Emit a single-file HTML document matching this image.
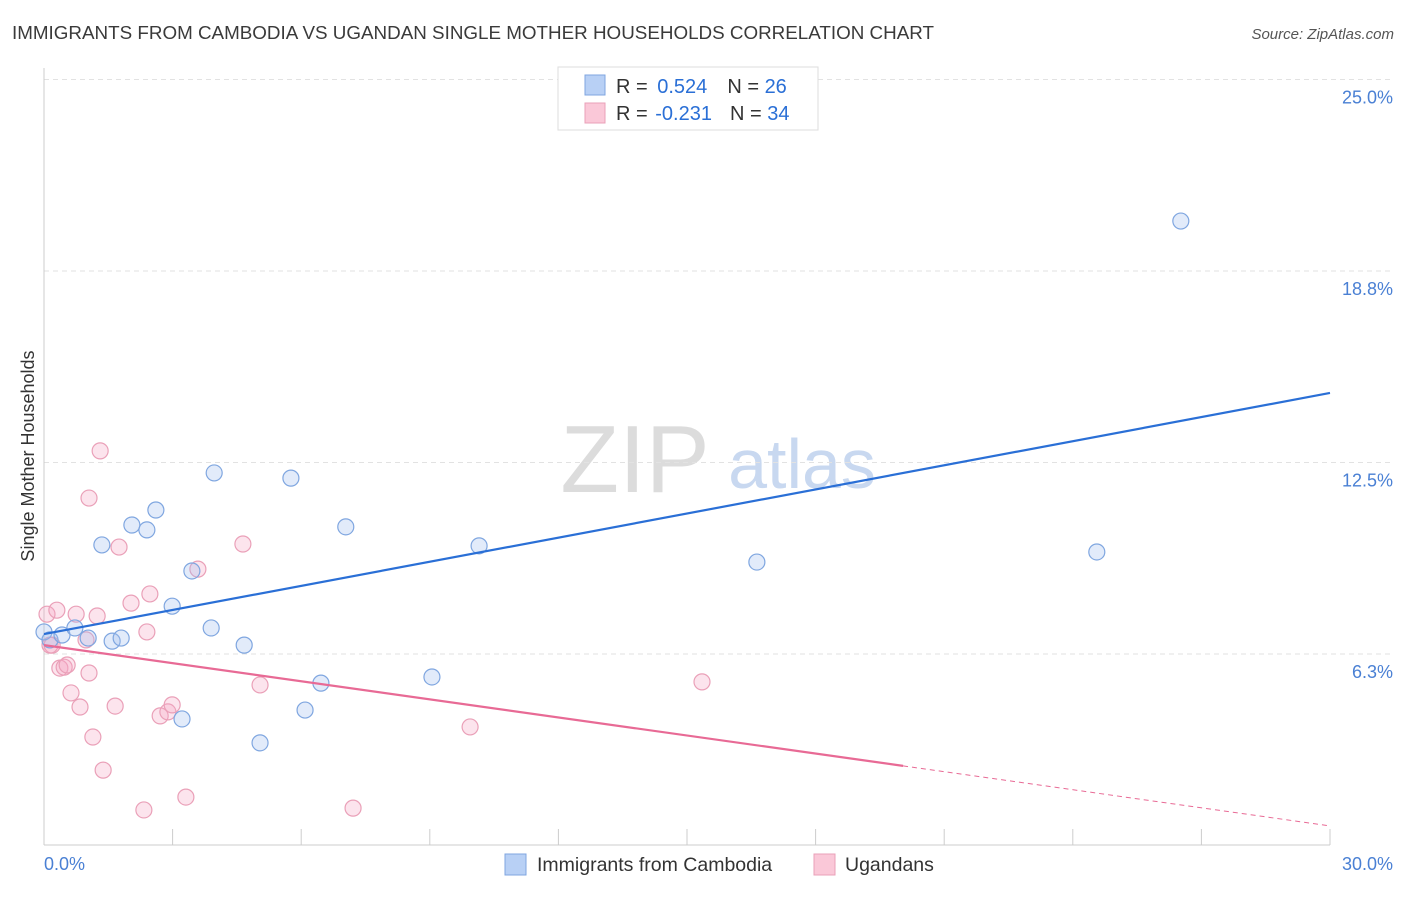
<!DOCTYPE html>
<html><head><meta charset="utf-8">
<style>
body{margin:0;background:#fff;font-family:"Liberation Sans",sans-serif;}
svg text{font-family:"Liberation Sans",sans-serif;}
</style></head>
<body>
<svg id="chart" width="1406" height="892" viewBox="0 0 1406 892" xmlns="http://www.w3.org/2000/svg">
<text x="12" y="39" font-size="18.8" fill="#3a3a3a" textLength="922" lengthAdjust="spacingAndGlyphs">IMMIGRANTS FROM CAMBODIA VS UGANDAN SINGLE MOTHER HOUSEHOLDS CORRELATION CHART</text>
<text x="1394" y="39" font-size="15" fill="#555" font-style="italic" text-anchor="end">Source: ZipAtlas.com</text>
<text transform="translate(34,456) rotate(-90)" font-size="18" fill="#333" text-anchor="middle">Single Mother Households</text>
<g>
<text x="635" y="492" font-size="96" fill="#dcdcdc" font-family="Liberation Serif" text-anchor="middle">ZIP</text>
<text x="802" y="488" font-size="70" fill="#c8d8f0" text-anchor="middle">atlas</text>
</g>
<g id="grid"></g>
<g id="axes"></g>
<g id="points"></g>
<g id="lines"></g>
<g>
<rect x="558" y="67" width="260" height="63" fill="#fff" stroke="#ddd"/>
<rect x="585" y="75" width="20" height="20" fill="#b8d0f5" stroke="#7fa6e0"/>
<rect x="585" y="103" width="20" height="20" fill="#fac8d8" stroke="#eaa0b8"/>
<text x="616" y="93" font-size="20" fill="#333">R = <tspan dx="4" fill="#2a6fd6">0.524</tspan><tspan dx="20">N = </tspan><tspan fill="#2a6fd6">26</tspan></text>
<text x="616" y="120" font-size="20" fill="#333">R = <tspan dx="2" fill="#2a6fd6">-0.231</tspan><tspan dx="18">N = </tspan><tspan fill="#2a6fd6">34</tspan></text>
</g>
<g>
<rect x="505" y="854" width="21" height="21" fill="#b8d0f5" stroke="#7fa6e0"/>
<text x="537" y="871" font-size="19.5" fill="#333">Immigrants from Cambodia</text>
<rect x="814" y="854" width="21" height="21" fill="#fac8d8" stroke="#eaa0b8"/>
<text x="845" y="871" font-size="19.5" fill="#333">Ugandans</text>
</g>
</svg>
<script>
const yTicks=[6.25,12.5,18.75,25];
const yTickLabels=["6.3%","12.5%","18.8%","25.0%"];
const xTickVals=[0,3,6,9,12,15,18,21,24,27,30];
const blueX=[0.0,0.14,0.42,0.72,1.03,1.35,1.59,1.80,2.05,2.40,2.61,2.99,3.22,3.45,3.90,3.97,4.67,5.04,5.76,6.09,6.46,7.04,9.05,10.15,16.63,24.56,26.52];
const blueY=[6.97,6.71,6.87,7.10,6.77,9.81,6.67,6.77,10.46,10.30,10.95,7.81,4.13,8.96,7.10,12.16,6.54,3.35,11.99,4.42,5.30,10.40,5.50,9.78,9.25,9.58,20.38];
const pinkX=[0.07,0.19,0.30,0.37,0.47,0.54,0.63,0.75,0.84,0.98,1.05,1.05,1.14,1.24,1.31,1.38,1.66,1.75,2.03,2.33,2.40,2.47,2.71,2.89,2.99,3.31,3.59,4.64,5.04,7.21,9.94,15.35,0.14];
const pinkY=[7.55,6.54,7.68,5.79,5.82,5.89,4.98,7.55,4.52,6.71,11.34,5.63,3.54,7.49,12.88,2.46,4.55,9.74,7.91,1.16,6.97,8.21,4.23,4.36,4.59,1.58,9.02,9.84,5.24,1.22,3.87,5.34,6.54];
const blueTrend=[6.90,14.77];
const pinkTrend=[6.54,0.64];
const pinkSolidEnd=20.04;
const NS="http://www.w3.org/2000/svg";
const X=v=>44+v*(1286/30);
const Y=v=>845.5-v*30.64;
function mk(tag,attrs,parent){const e=document.createElementNS(NS,tag);for(const k in attrs)e.setAttribute(k,attrs[k]);document.getElementById(parent).appendChild(e);return e;}
yTicks.forEach((t,i)=>{
 const l=mk('line',{x1:44,x2:1394,y1:Y(t),y2:Y(t),stroke:'#e2e2e2','stroke-dasharray':'5,4'},'grid');
 
 
 const tx=mk('text',{x:1393,y:Y(t)+24,'font-size':18,fill:'#4a80d4','text-anchor':'end'},'grid');
 tx.textContent=yTickLabels[i];
 
 
});
let ax=mk('line',{x1:44,x2:44,y1:68,y2:845,stroke:'#ccc'},'axes');


ax=mk('line',{x1:44,x2:1330,y1:845,y2:845,stroke:'#ccc'},'axes');


xTickVals.forEach(v=>{
 const t=mk('line',{x1:X(v),x2:X(v),y1:829,y2:845,stroke:'#ccc'},'axes');
 
 
});
let xl=mk('text',{x:44,y:870,'font-size':18,fill:'#4a80d4'},'axes');xl.textContent='0.0%';


xl=mk('text',{x:1393,y:870,'font-size':18,fill:'#4a80d4','text-anchor':'end'},'axes');xl.textContent='30.0%';


pinkX.forEach((v,i)=>{
 const c=mk('circle',{cx:X(v),cy:Y(pinkY[i]),r:8,fill:'rgba(245,165,195,0.3)',stroke:'#eaa0b8','stroke-width':1.2},'points');
 
 
});
blueX.forEach((v,i)=>{
 const c=mk('circle',{cx:X(v),cy:Y(blueY[i]),r:8,fill:'rgba(160,190,240,0.3)',stroke:'#7fa6e0','stroke-width':1.2},'points');
 
 
});
let ln=mk('line',{x1:X(0),y1:Y(blueTrend[0]),x2:X(30),y2:Y(blueTrend[1]),stroke:'#2a6fd6','stroke-width':2.2},'lines');


const pAt=x=>pinkTrend[0]+(pinkTrend[1]-pinkTrend[0])*x/30;
ln=mk('line',{x1:X(0),y1:Y(pinkTrend[0]),x2:X(pinkSolidEnd),y2:Y(pAt(pinkSolidEnd)),stroke:'#e86a95','stroke-width':2.2},'lines');


ln=mk('line',{x1:X(pinkSolidEnd),y1:Y(pAt(pinkSolidEnd)),x2:X(30),y2:Y(pinkTrend[1]),stroke:'#e86a95','stroke-width':1,'stroke-dasharray':'5,4'},'lines');


</script>
</body></html>
